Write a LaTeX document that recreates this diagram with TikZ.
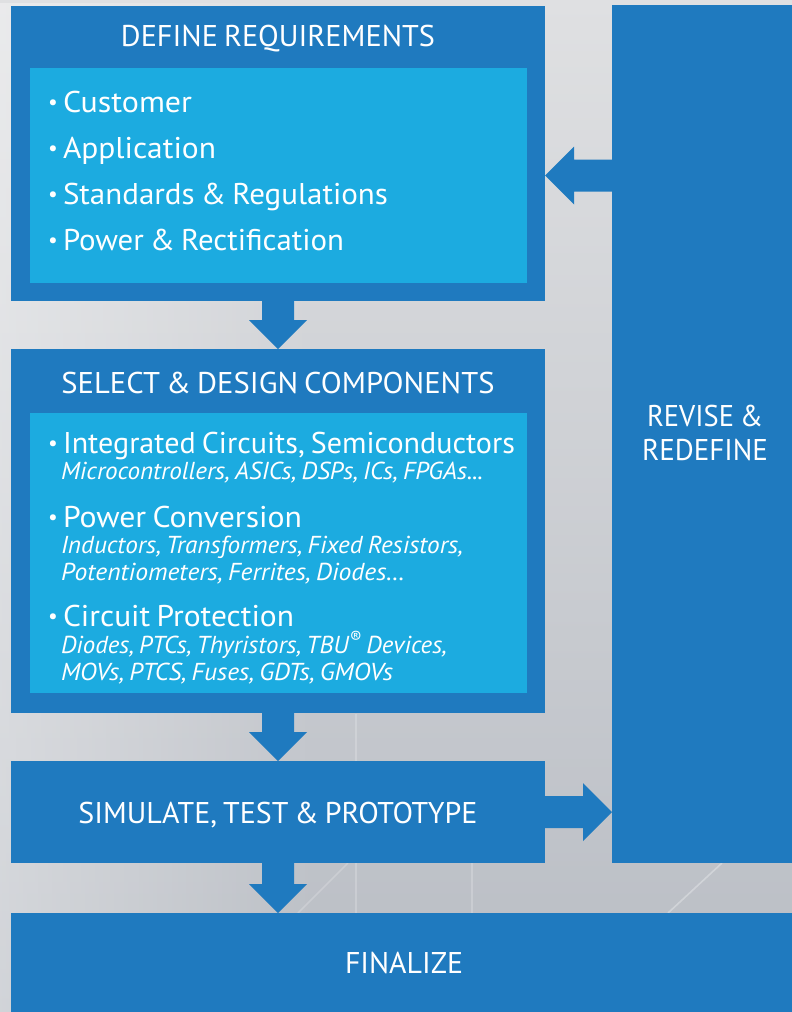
\documentclass[tikz,border=0pt]{standalone}
\usepackage{fontspec}
\setmainfont{PT Sans}[WordSpace=0.75]
\usepackage{graphicx}
\usetikzlibrary{calc,fadings}
\definecolor{outerblue}{HTML}{1F7ABF}
\definecolor{innerblue}{HTML}{1CABE0}
\definecolor{bgtop}{HTML}{DFE0E2}
\definecolor{bgbot}{HTML}{B9BDC4}
\newcommand\fitw[2]{\resizebox{#1pt}{\height}{#2}}
\newcommand\bul{\makebox[16pt][l]{\hspace{1pt}\raisebox{2.6pt}{\scalebox{0.72}{•}}}}
\newcommand\downblock[2]{\fill[blockarrow] let \p1=(#1), \p2=(#2) in
 (\x1-16pt,\y1+1pt) -- (\x1+16pt,\y1+1pt) -- (\x1+16pt,\y2+29pt) -- (\x1+29pt,\y2+29pt)
 -- (\x1,\y2) -- (\x1-29pt,\y2+29pt) -- (\x1-16pt,\y2+29pt) -- cycle;}
\newcommand\leftblock[2]{\fill[blockarrow] let \p1=(#1), \p2=(#2) in
 (\x1+1pt,\y1-16pt) -- (\x1+1pt,\y1+16pt) -- (\x2+29pt,\y1+16pt) -- (\x2+29pt,\y1+29pt)
 -- (\x2,\y1) -- (\x2+29pt,\y1-29pt) -- (\x2+29pt,\y1-16pt) -- cycle;}
\newcommand\rightblock[2]{\fill[blockarrow] let \p1=(#1), \p2=(#2) in
 (\x1-1pt,\y1-16pt) -- (\x1-1pt,\y1+16pt) -- (\x2-29pt,\y1+16pt) -- (\x2-29pt,\y1+29pt)
 -- (\x2,\y1) -- (\x2-29pt,\y1-29pt) -- (\x2-29pt,\y1-16pt) -- cycle;}
\begin{document}
\begin{tikzpicture}[x=1pt,y=-1pt,
  outerbox/.style={fill=outerblue, draw=none, inner sep=0pt, outer sep=0pt, anchor=north west},
  innerbox/.style={fill=innerblue, draw=none, inner sep=0pt, outer sep=0pt, anchor=north west},
  blockarrow/.style={fill=outerblue},
  txt/.style={text=white, inner sep=0pt, outer sep=0pt},
  headtxt/.style={txt, anchor=base, font=\fontsize{30}{36}\selectfont},
  itemtxt/.style={txt, anchor=base west, font=\fontsize{30}{36}\selectfont},
  subtxt/.style={txt, anchor=base west, font=\fontsize{24.5}{29}\selectfont\itshape},
  streak/.style={white, line width=1.6pt, opacity=0.3}]
\useasboundingbox (0,0) rectangle (792,1012);
% background
\shade[top color=bgtop, bottom color=bgbot] (0,0) rectangle (792,1012);
\fill[white, opacity=0.35, path fading=east] (0,0) rectangle (320,1012);
\draw[streak] (668,913) -- (722,863);
\draw[streak, opacity=0.2] (298,913) -- (348,863);
\draw[streak, opacity=0.2] (356,714) -- (356,913);
\draw[streak, opacity=0.2] (472,863) -- (472,913);
% boxes
\node[outerbox, minimum width=534pt, minimum height=295pt] (define) at (11,6) {};
\node[innerbox, minimum width=497pt, minimum height=215pt] (definner) at (30,68) {};
\node[outerbox, minimum width=534pt, minimum height=364pt] (select) at (11,349) {};
\node[innerbox, minimum width=497pt, minimum height=280pt] (selinner) at (30,413) {};
\node[outerbox, minimum width=534pt, minimum height=102pt] (simulate) at (11,761) {};
\node[outerbox, minimum width=781pt, minimum height=99pt] (finalize) at (11,913) {};
\node[outerbox, minimum width=180pt, minimum height=858pt] (revise) at (612,5) {};
% block arrows
\downblock{define.south}{select.north}
\downblock{select.south}{simulate.north}
\downblock{simulate.south}{simulate.south |- finalize.north}
\leftblock{revise.west |- definner.east}{define.east |- definner.east}
\rightblock{simulate.east}{simulate.east -| revise.west}
% define requirements
\node[headtxt] (deftitle) at (278,46) {\fitw{314}{DEFINE REQUIREMENTS}};
\node[itemtxt] (d1) at (47,112.5) {\bul\fitw{129}{Customer}};
\node[itemtxt] (d2) at (47,158.5) {\bul\fitw{153}{Application}};
\node[itemtxt] (d3) at (47,204) {\bul\fitw{325}{Standards \& Regulations}};
\node[itemtxt] (d4) at (47,250) {\bul\fitw{281}{Power \& Rectification}};
% select & design
\node[headtxt] (seltitle) at (278,393) {\fitw{433}{SELECT \& DESIGN COMPONENTS}};
\node[itemtxt] (s1) at (47,453) {\bul\fitw{452}{Integrated Circuits, Semiconductors}};
\node[subtxt] (s1a) at (61,479.5) {\fitw{422}{Microcontrollers, ASICs, DSPs, ICs, FPGAs...}};
\node[itemtxt] (s2) at (47,527) {\bul\fitw{239}{Power Conversion}};
\node[subtxt] (s2a) at (61,553) {\fitw{402}{Inductors, Transformers, Fixed Resistors,}};
\node[subtxt] (s2b) at (61,580) {\fitw{344}{Potentiometers, Ferrites, Diodes…}};
\node[itemtxt] (s3) at (47,626) {\bul\fitw{231}{Circuit Protection}};
\node[subtxt] (s3a) at (61,653) {\fitw{386}{Diodes, PTCs, Thyristors, TBU\textsuperscript{®} Devices,}};
\node[subtxt] (s3b) at (61,680) {\fitw{332}{MOVs, PTCS, Fuses, GDTs, GMOVs}};
% other labels
\node[headtxt] (simtitle) at (278,823) {\fitw{399}{SIMULATE, TEST \& PROTOTYPE}};
\node[headtxt] (fintitle) at (404,973) {\fitw{118}{FINALIZE}};
\node[headtxt] (rev1) at (705,426) {\fitw{116}{REVISE \&}};
\node[headtxt] (rev2) at (705,460) {\fitw{126}{REDEFINE}};
\end{tikzpicture}
\end{document}
